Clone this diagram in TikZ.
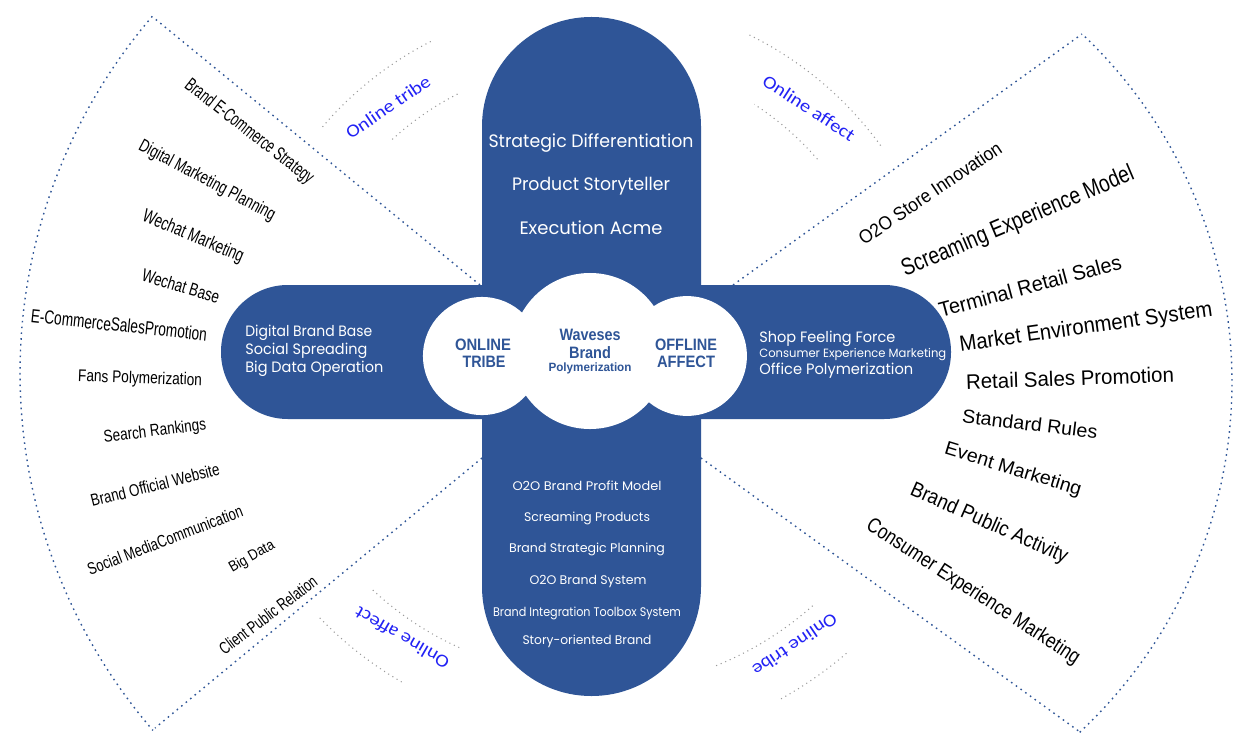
\documentclass[tikz,border=0pt]{standalone}
\usepackage{fontspec}
\usepackage{graphicx}
\setmainfont{Liberation Sans}
\newfontfamily\gothic{Poppins}
\newfontfamily\calib{Carlito}
\newdimen\pxu \pxu=0.5690551pt
\newcommand{\fitt}[3]{{\fontsize{#1\pxu}{#1\pxu}\selectfont\resizebox{#2\pxu}{\height}{#3}}}
\definecolor{barblue}{HTML}{2F5597}
\definecolor{lblblue}{HTML}{2222F5}
\definecolor{dotgray}{HTML}{9A9A9A}
\begin{document}
\begin{tikzpicture}[x=0.02cm,y=-0.02cm,
  lab/.style={inner sep=0pt, text=black},
  wt/.style={inner sep=0pt, text=white, font=\gothic},
  ct/.style={inner sep=0pt, text=barblue, font=\bfseries},
  bl/.style={inner sep=0pt, text=lblblue, font=\calib},
  secline/.style={draw=barblue, line width=0.8pt, dash pattern=on 0.9pt off 2.4pt},
  arcline/.style={draw=dotgray, line width=0.6pt, dash pattern=on 0.6pt off 2.2pt}]
\useasboundingbox (0,0) rectangle (1250,750);
\fill[white] (0,0) rectangle (1250,750);

% sector outlines
\coordinate (ltv) at (154,18);
\coordinate (lbv) at (155,728);
\coordinate (rtv) at (1082,34);
\coordinate (rbv) at (1080,732);
\coordinate (lte) at (480,285);
\coordinate (lbe) at (482,458);
\coordinate (rte) at (733,285);
\coordinate (rbe) at (701,458);
\draw[secline] (lte) -- (ltv);
\draw[secline] (lbe) -- (lbv);
\draw[secline] (rte) -- (rtv);
\draw[secline] (rbe) -- (rbv);
\draw[secline] plot[domain=139.3:220.8, samples=90] ({567+547*cos(\x)},{373-547*sin(\x)});
\draw[secline] plot[domain=-47:46.6, samples=90] ({753+479*cos(\x)},{382-479*sin(\x)});

% small grey arcs
\draw[arcline] plot[domain=117:140, samples=40] ({591+353*cos(\x)},{356-353*sin(\x)});
\draw[arcline] plot[domain=117:133, samples=40] ({591+294*cos(\x)},{356-294*sin(\x)});
\draw[arcline] plot[domain=36:64, samples=40] ({591+358*cos(\x)},{356-358*sin(\x)});
\draw[arcline] plot[domain=41:57, samples=40] ({591+300*cos(\x)},{356-300*sin(\x)});
\draw[arcline] plot[domain=227:246, samples=40] ({591+320*cos(\x)},{356-320*sin(\x)});
\draw[arcline] plot[domain=224:240, samples=40] ({591+377*cos(\x)},{356-377*sin(\x)});
\draw[arcline] plot[domain=292:312, samples=40] ({591+334*cos(\x)},{356-334*sin(\x)});
\draw[arcline] plot[domain=299:311, samples=40] ({591+392*cos(\x)},{356-392*sin(\x)});

% bars
\fill[barblue, rounded corners=62.2pt] (482,17) rectangle (701,696);
\fill[barblue, rounded corners=38pt] (221,285) rectangle (951,419);

% circles
\node[circle, fill=white, minimum size=67.2pt, inner sep=0pt] (cl) at (482,356) {};
\node[circle, fill=white, minimum size=88.8pt, inner sep=0pt] (cm) at (590,351) {};
\node[circle, fill=white, minimum size=68.2pt, inner sep=0pt] (cr) at (687,356) {};

% centre texts
\node[ct] (t1) at (483,345) {\fitt{16.5}{56}{ONLINE}};
\node[ct] (t2) at (484,362) {\fitt{16.5}{43}{TRIBE}};
\node[ct] (t3) at (590,335) {\fitt{16.5}{61}{Waveses}};
\node[ct] (t4) at (590,353) {\fitt{16.5}{42}{Brand}};
\node[ct] (t5) at (590,368) {\fitt{12}{83}{Polymerization}};
\node[ct] (t6) at (686,345) {\fitt{16.5}{62}{OFFLINE}};
\node[ct] (t7) at (686,362) {\fitt{16.5}{58}{AFFECT}};

% top bar texts
\node[wt] (u1) at (591,143) {\fitt{18}{205}{Strategic Differentiation}};
\node[wt] (u2) at (591,186) {\fitt{18}{158}{Product Storyteller}};
\node[wt] (u3) at (591,228) {\fitt{18}{143}{Execution Acme}};

% left bar texts
\node[wt, anchor=west] (h1) at (245,333) {\fitt{15}{127}{Digital Brand Base}};
\node[wt, anchor=west] (h2) at (245,351) {\fitt{15}{122}{Social Spreading}};
\node[wt, anchor=west] (h3) at (245,369) {\fitt{15}{138}{Big Data Operation}};

% right bar texts
\node[wt, anchor=west] (k1) at (759,339) {\fitt{15}{136}{Shop Feeling Force}};
\node[wt, anchor=west] (k2) at (759,355) {\fitt{12}{187}{Consumer Experience Marketing}};
\node[wt, anchor=west] (k3) at (759,371) {\fitt{15}{154}{Office Polymerization}};

% bottom bar texts
\node[wt] (b1) at (587,486) {\fitt{12.5}{149}{O2O Brand Profit Model}};
\node[wt] (b2) at (587,518) {\fitt{12.5}{126}{Screaming Products}};
\node[wt] (b3) at (587,549) {\fitt{12.5}{156}{Brand Strategic Planning}};
\node[wt] (b4) at (588,581) {\fitt{12.5}{117}{O2O Brand System}};
\node[wt] (b5) at (587,613) {\fitt{12.5}{188}{Brand Integration Toolbox System}};
\node[wt] (b6) at (587,641) {\fitt{12.5}{129}{Story-oriented Brand}};

% blue corner labels
\node[bl, rotate=34] (o1) at (388,107) {\fitt{18}{98}{Online tribe}};
\node[bl, rotate=-33] (o2) at (809,108) {\fitt{18}{106}{Online affect}};
\node[bl, rotate=150] (o3) at (402,638) {\fitt{18}{106}{Online affect}};
\node[bl, rotate=-146] (o4) at (795,645) {\fitt{18}{98}{Online tribe}};

% left labels
\node[lab, rotate=-38] (l1) at (249,132) {\fitt{19}{158}{Brand E-Commerce Strategy}};
\node[lab, rotate=-28] (l2) at (207,181) {\fitt{18}{152}{Digital Marketing Planning}};
\node[lab, rotate=-23] (l3) at (193,237) {\fitt{19}{108}{Wechat Marketing}};
\node[lab, rotate=-17] (l4) at (181,286) {\fitt{18}{80}{Wechat Base}};
\node[lab, rotate=-6] (l5) at (119,325) {\fitt{19}{177}{E-CommerceSalesPromotion}};
\node[lab, rotate=-2] (l6) at (140,379) {\fitt{17}{124}{Fans Polymerization}};
\node[lab, rotate=7] (l7) at (155,432) {\fitt{17}{103}{Search Rankings}};
\node[lab, rotate=14] (l8) at (155,485) {\fitt{17}{132}{Brand Official Website}};
\node[lab, rotate=21] (l9) at (165,540) {\fitt{17}{165}{Social MediaCommunication}};
\node[lab, rotate=30] (l10) at (252,557) {\fitt{15}{50}{Big Data}};
\node[lab, rotate=37] (l11) at (268,615) {\fitt{17}{118}{Client Public Relation}};

% right labels
\node[lab, rotate=34] (r1) at (930,193) {\fitt{19}{168}{O2O Store Innovation}};
\node[lab, rotate=23] (r2) at (1018,222) {\fitt{24}{250}{Screaming Experience Model}};
\node[lab, rotate=15] (r3) at (1030,286) {\fitt{21}{188}{Terminal Retail Sales}};
\node[lab, rotate=8] (r4) at (1086,328) {\fitt{22}{255}{Market Environment System}};
\node[lab, rotate=2] (r5) at (1070,378) {\fitt{21}{208}{Retail Sales Promotion}};
\node[lab, rotate=-7] (r6) at (1030,424) {\fitt{19}{136}{Standard Rules}};
\node[lab, rotate=-17] (r7) at (1013,470) {\fitt{19}{142}{Event Marketing}};
\node[lab, rotate=-24] (r8) at (989,524) {\fitt{21}{170}{Brand Public Activity}};
\node[lab, rotate=-33] (r9) at (973,592) {\fitt{21}{250}{Consumer Experience Marketing}};
\end{tikzpicture}
\end{document}
